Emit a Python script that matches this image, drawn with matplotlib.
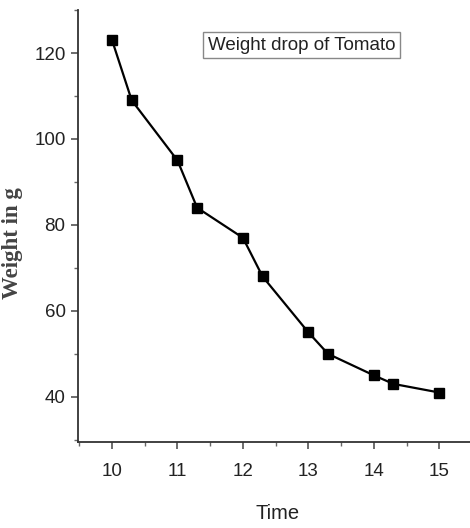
import matplotlib
matplotlib.use("Agg")
import matplotlib.pyplot as plt
from matplotlib.ticker import MultipleLocator

time = [10, 10.3, 11, 11.3, 12, 12.3, 13, 13.3, 14, 14.3, 15]
weight = [123, 109, 95, 84, 77, 68, 55, 50, 45, 43, 41]
x_ticks = [10, 11, 12, 13, 14, 15]
y_ticks = [40, 60, 80, 100, 120]

fig = plt.figure(figsize=(4.70, 5.28), dpi=100)
ax = fig.add_axes([0.166, 0.163, 0.834, 0.818])

ax.plot(time, weight, color="black", lw=1.6, marker="s", markersize=7,
        markerfacecolor="black", markeredgecolor="black")

ax.set_xlim(9.48, 15.47)
ax.set_ylim(29.5, 130)
ax.set_xticks(x_ticks)
ax.set_yticks(y_ticks)
ax.xaxis.set_minor_locator(MultipleLocator(0.5))
ax.yaxis.set_minor_locator(MultipleLocator(10))

for s in ["top", "right"]:
    ax.spines[s].set_visible(False)
for s in ["left", "bottom"]:
    ax.spines[s].set_linewidth(1.3)
    ax.spines[s].set_color("#333333")

sans = ["Liberation Sans", "DejaVu Sans"]
ax.tick_params(which="major", direction="out", length=5, width=1.1, color="#444444",
               labelcolor="#222222")
ax.tick_params(axis="x", which="major", pad=10)
ax.tick_params(axis="y", which="major", pad=4)
ax.tick_params(which="minor", direction="out", length=3, width=1.0, color="#666666")
for lbl in ax.get_xticklabels() + ax.get_yticklabels():
    lbl.set_fontfamily(sans)
    lbl.set_fontsize(13.5)

ax.set_xlabel("Time", fontfamily=sans, fontsize=14.5, color="#222222")
ax.xaxis.set_label_coords(0.51, -0.143)
ax.set_ylabel("Weight in g", fontfamily=["Liberation Serif", "DejaVu Serif"], fontsize=16.5,
              fontweight="bold", color="#444444")
ax.yaxis.set_label_coords(-0.14, 0.46)

ax.text(0.571, 0.919, "Weight drop of Tomato", transform=ax.transAxes,
        ha="center", va="center", fontsize=13.5,
        fontfamily=sans, color="#222222",
        bbox=dict(boxstyle="square,pad=0.25", facecolor="white", edgecolor="#888888", lw=1.0))

fig.savefig("out.png", dpi=100)
